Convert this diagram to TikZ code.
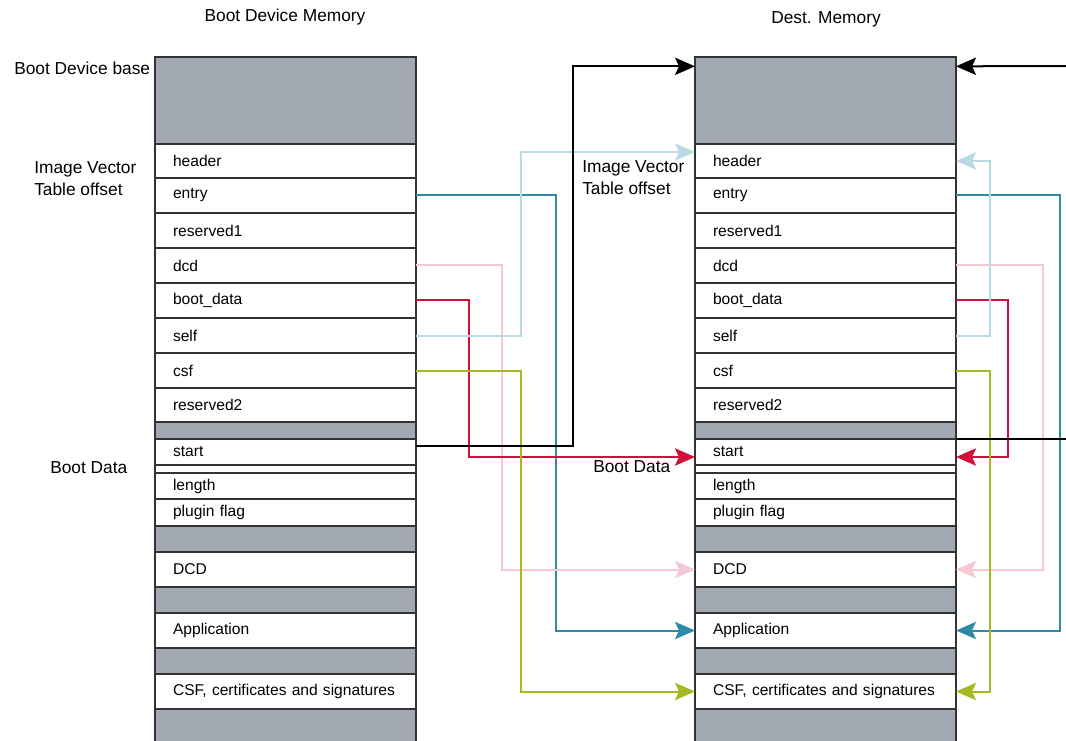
\documentclass[tikz,border=0pt]{standalone}
\usepackage{fontspec}
\setmainfont{Liberation Sans}
\usetikzlibrary{arrows.meta}

\definecolor{memgray}{RGB}{162,169,178}
\definecolor{boxline}{RGB}{51,51,51}
\definecolor{tealline}{RGB}{46,139,166}
\definecolor{pinkline}{RGB}{245,200,212}
\definecolor{redline}{RGB}{208,16,58}
\definecolor{blueline}{RGB}{185,218,228}
\definecolor{greenline}{RGB}{168,184,32}

\tikzset{
	cell/.style={rectangle, draw=boxline, line width=1.3pt, anchor=north west,
		text width=168.75pt, inner xsep=13.5pt, inner ysep=0pt, outer sep=0pt,
		align=left, font=\fontsize{11.7}{13}\selectfont},
	side/.style={anchor=west, inner sep=0pt, align=left, font=\fontsize{13}{16.5}\selectfont},
	conn/.style={line width=1.5pt},
}

\begin{document}
\begin{tikzpicture}[x=0.75pt, y=-0.75pt, >={Stealth[length=15pt, width=13pt, inset=3pt]}]
		\useasboundingbox (0,0) rectangle (1066,741);
		
		% Memory columns
		\foreach \col/\xl in {L/155, R/695} {
			\foreach \name/\ya/\yb/\txt/\fc in {
				g0/57/144//memgray, hdr/144/178/header/white, entry/178/213/entry/white,
				resa/213/248/reserved1/white, dcd/248/283/dcd/white,
				bdata/283/318/boot\_data/white, self/318/353/self/white,
				csf/353/388/csf/white, resb/388/422/reserved2/white,
				g1/422/439//memgray, start/439/465/start/white, sep/465/473//white,
				len/473/499/length/white, plug/499/526/plugin flag/white,
				g2/526/552//memgray, DCD/552/587/DCD/white, g3/587/613//memgray,
				app/613/648/Application/white, g4/648/674//memgray,
				CSF/674/709/{CSF, certificates and signatures}/white, g5/709/746//memgray} {
				\node[cell, fill=\fc, minimum height={(\yb-\ya)*0.75pt}] (\col\name) at (\xl,\ya) {\txt};
			}
		}
		
		% Titles and side labels
		\node[font=\fontsize{13}{16}\selectfont] (ttlL) at (285,17) {Boot Device Memory};
		\node[font=\fontsize{13}{16}\selectfont] (ttlR) at (826,19) {Dest. Memory};
		\node[side] (base) at (14,68) {Boot Device base};
		\node[side] (ivtL) at (34,179) {Image Vector\\Table offset};
		\node[side] (bdL) at (50,468) {Boot Data};
		\node[side] (ivtR) at (582,178) {Image Vector\\Table offset};
		\node[side] (bdR) at (593,467) {Boot Data};
		
		% Free ends on the right
		\coordinate (inR) at (1070,66);
		
		% Lines from boot device memory
		\draw[conn, tealline, ->] (Lentry.east) -- ++(140,0) |- (Rapp.west);
		\draw[conn, pinkline, ->] (Ldcd.east) -- ++(86,0) |- (RDCD.west);
		\draw[conn, redline, ->] (Lbdata.east) -- ++(53,0) |- ([yshift=-3.75pt]Rstart.west);
		\draw[conn, blueline, ->] (Lself.east) -- ++(105,0) |- ([yshift=6.75pt]Rhdr.west);
		\draw[conn, greenline, ->] (Lcsf.east) -- ++(105,0) |- (RCSF.west);
		\draw[conn, black, ->] ([yshift=4.5pt]Lstart.east) -- ++(157,0) |- ([yshift=-7pt]Rg0.north west);
		
		% Lines within dest. memory
		\draw[conn, tealline, ->] (Rentry.east) -- ++(104,0) |- (Rapp.east);
		\draw[conn, pinkline, ->] (Rdcd.east) -- ++(87,0) |- (RDCD.east);
		\draw[conn, redline, ->] (Rbdata.east) -- ++(52,0) |- ([yshift=-3.75pt]Rstart.east);
		\draw[conn, blueline, ->] (Rself.east) -- ++(34,0) |- (Rhdr.east);
		\draw[conn, greenline, ->] (Rcsf.east) -- ++(34,0) |- (RCSF.east);
		\draw[conn, black, ->] (inR) -- ([yshift=-7pt]Rg0.north east);
		\draw[conn, black] (Rstart.north east) -- ++(112,0);
		
	\end{tikzpicture}
\end{document}
